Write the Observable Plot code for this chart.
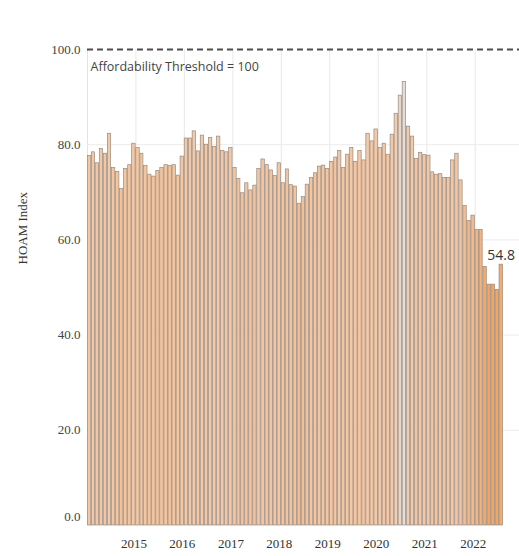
<!DOCTYPE html>
<html><head><meta charset="utf-8">
<script src="https://cdn.jsdelivr.net/npm/d3@7"></script>
<script src="https://cdn.jsdelivr.net/npm/@observablehq/plot@0.6"></script>
<style>
html,body{margin:0;padding:0;background:#fff;}
#chart{width:519px;height:556px;}
</style></head><body><div id="chart"></div>
<script>
// Monthly HOAM index, Jan 2014 – Jul 2022
const startMonth = "2014-01-01";
const hoamValues = [
  77.6, 78.4, 76.1, 79.1, 78.1, 82.3, 75.1, 74.3, 70.7, 74.9, 75.7, 80.2, // 2014
  79.3, 78.1, 75.5, 73.7, 73.3, 74.5, 75.1, 75.7, 75.5, 75.7, 73.5, 77.5, // 2015
  81.3, 81.3, 82.8, 78.6, 81.9, 80.0, 81.4, 79.5, 81.7, 78.7, 78.4, 79.3, // 2016
  75.1, 72.8, 69.8, 71.9, 70.4, 71.4, 74.9, 76.9, 75.7, 74.6, 73.4, 76.1, // 2017
  71.9, 74.8, 71.5, 71.2, 67.6, 69.0, 71.6, 73.0, 74.0, 75.4, 75.6, 74.9, // 2018
  76.4, 77.3, 78.7, 75.1, 77.9, 79.3, 76.4, 78.7, 76.7, 82.3, 80.7, 83.2, // 2019
  79.3, 80.2, 77.9, 82.1, 86.5, 90.3, 93.2, 83.8, 81.7, 77.0, 78.3, 77.8, // 2020
  77.7, 74.2, 73.7, 73.8, 73.0, 73.0, 76.7, 78.1, 72.5, 67.1, 64.0, 65.1, // 2021
  62.1, 62.1, 54.3, 50.6, 50.6, 49.5, 54.8                                // 2022
];
const yearTicks = [2015, 2016, 2017, 2018, 2019, 2020, 2021, 2022];
const yTicks = [0, 20, 40, 60, 80, 100];
const threshold = 100;
const thresholdLabel = "Affordability Threshold = 100";
const yTitle = "HOAM Index";
const xDomainEnd = "2022-12-01";

const serif = "Liberation Serif";
const sans = "Open Sans";

const start = new Date(startMonth);
const months = d3.utcMonth.range(start, d3.utcMonth.offset(start, hoamValues.length));
const data = hoamValues.map((v, i) => ({date: months[i], value: v}));
const lastPoint = [data[data.length - 1]];
const yearDates = yearTicks.map(y => new Date(Date.UTC(y, 0, 1)));

const chart = Plot.plot({
  width: 519, height: 556,
  marginLeft: 87, marginRight: 0, marginTop: 49, marginBottom: 31,
  style: {background: "#fff"},
  x: {type: "utc", domain: [start, new Date(xDomainEnd)], label: null},
  y: {domain: [0, 100], label: null},
  color: {type: "linear", domain: [49, 62, 72, 85, 93],
          range: ["#f7a358", "#f6b47c", "#f5c49c", "#f2cbab", "#e6ddd5"]},
  marks: [
    Plot.gridX(yearDates, {stroke: "#e8e8e8", strokeOpacity: 1}),
    Plot.ruleX([start], {stroke: "#e3e3e3"}),
    Plot.gridY(yTicks.filter(t => t > 0 && t < 100), {stroke: "#ececec", strokeOpacity: 1}),
    Plot.rectY(data, {x: "date", interval: "month", y: "value", fill: "value",
      stroke: "#948a84", strokeWidth: 0.7, insetLeft: 0.35, insetRight: 0.35}),
    Plot.ruleY([threshold], {stroke: "#4d4d4d", strokeWidth: 2, strokeDasharray: "6,4"}),
    Plot.text([thresholdLabel], {x: () => start, y: () => threshold, text: d => d,
      textAnchor: "start", dx: 3, dy: 17, fontSize: 12.5, fill: "#444", fontFamily: sans}),
    Plot.text(lastPoint, {x: d => d3.utcDay.offset(d.date, 15), y: "value", text: d => d.value.toFixed(1),
      dy: -9, fontSize: 14, fill: "#333", fontFamily: sans}),
    Plot.axisY(yTicks.filter(t => t > 0), {tickSize: 0, tickPadding: 7, tickFormat: d3.format(".1f"),
      fontSize: 13, color: "#444", label: null, fontFamily: serif}),
    Plot.axisY([0], {tickSize: 0, tickPadding: 7, tickFormat: d3.format(".1f"),
      fontSize: 13, color: "#444", label: null, dy: -9, fontFamily: serif}),
    Plot.axisX(yearDates, {tickSize: 0, tickPadding: 13, tickFormat: d3.utcFormat("%Y"),
      fontSize: 13, color: "#333", label: null, dx: -2, fontFamily: serif}),
    Plot.text([yTitle], {frameAnchor: "left", text: d => d, rotate: -90, dx: -65, dy: -23,
      fontSize: 13, fill: "#333", fontFamily: serif})
  ]
});
document.getElementById("chart").appendChild(chart);
</script></body></html>
